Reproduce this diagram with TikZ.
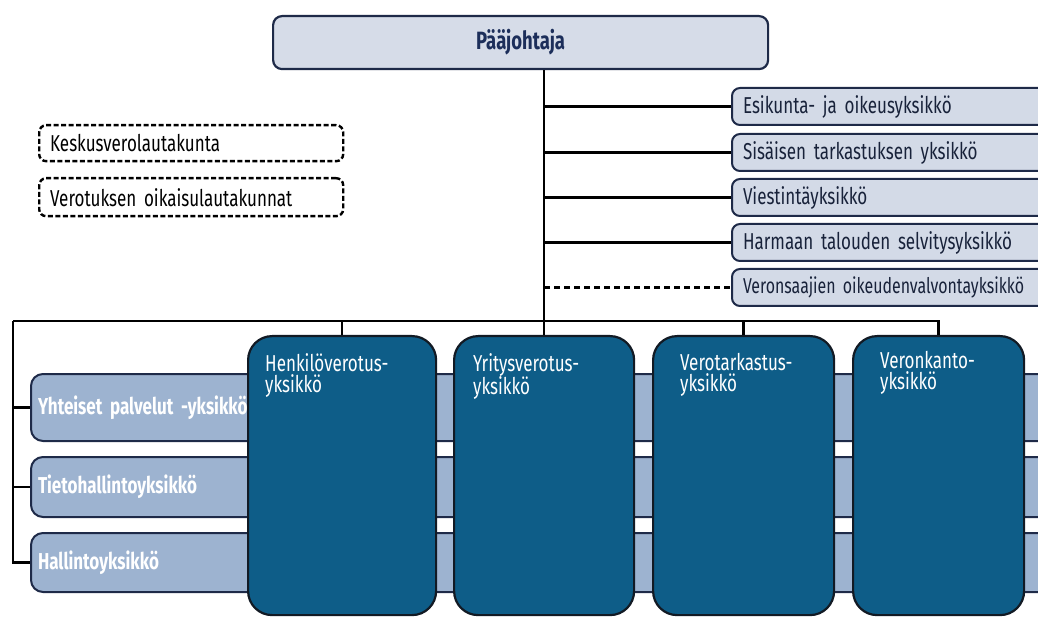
\documentclass[tikz,border=0pt]{standalone}
\usepackage{fontspec}
\setmainfont[FakeStretch=0.74,WordSpace=0.6]{Fira Sans}
\usetikzlibrary{calc}
\definecolor{navy}{RGB}{30,42,72}
\definecolor{pjtext}{RGB}{28,46,90}
\definecolor{pjfill}{RGB}{214,220,232}
\definecolor{rfill}{RGB}{211,218,231}
\definecolor{lfill}{RGB}{157,179,208}
\definecolor{dfill}{RGB}{14,93,136}
\definecolor{dborder}{RGB}{18,26,36}
\begin{document}
\begin{tikzpicture}[x=1pt,y=-1pt,
  conn/.style={line width=2.6pt, draw=black},
  pjbox/.style={draw=navy, line width=2.2pt, rounded corners=9pt, fill=pjfill, inner sep=0pt, anchor=north west, text=pjtext, font=\fontsize{25}{28}\selectfont\bfseries},
  rbox/.style={draw=navy, line width=2pt, rounded corners=8pt, fill=rfill, anchor=north west, minimum width=340pt, minimum height=37pt, text width=318pt, inner xsep=11pt, inner ysep=0pt, align=left, text=navy!80!black, font=\fontsize{23}{24}\selectfont},
  dbox/.style={draw=black, line width=2.4pt, dash pattern=on 5pt off 2.5pt, rounded corners=7pt, anchor=north west, minimum width=304pt, text width=282pt, inner xsep=11pt, inner ysep=0pt, align=left, font=\fontsize{23}{24}\selectfont},
  lbox/.style={draw=navy, line width=2pt, rounded corners=12pt, fill=lfill, anchor=north west, minimum width=1050pt, text width=1036pt, inner xsep=7pt, inner ysep=0pt, align=left, text=white, font=\fontsize{23}{24}\selectfont\bfseries},
  kbox/.style={draw=dborder, line width=2.2pt, rounded corners=24pt, fill=dfill, anchor=north west, minimum height=279pt, inner sep=0pt},
  ktext/.style={anchor=north west, inner sep=0pt, text=white, align=left, font=\fontsize{23}{21}\selectfont}
]
\useasboundingbox (0,0) rectangle (1038,617);
\clip (0,0) rectangle (1038,617);

% top
\node[pjbox, minimum width=495pt, minimum height=53pt] (pj) at (272,15) {Pääjohtaja};

% staff units
\node[rbox] (r1) at (731,87) {Esikunta- ja oikeusyksikkö};
\node[rbox] (r2) at (731,133) {Sisäisen tarkastuksen yksikkö};
\node[rbox] (r3) at (731,178) {Viestintäyksikkö};
\node[rbox] (r4) at (731,223) {Harmaan talouden selvitysyksikkö};
\node[rbox, font=\fontsize{21.5}{24}\selectfont] (r5) at (731,268) {Veronsaajien oikeudenvalvontayksikkö};

% boards
\node[dbox, minimum height=36pt] (k1) at (38,124) {Keskusverolautakunta};
\node[dbox, minimum height=38pt] (k2) at (38,177) {Verotuksen oikaisulautakunnat};

% light horizontal units
\node[lbox, minimum height=67pt] (yht) at (30,373) {Yhteiset palvelut -yksikkö};
\node[lbox, minimum height=60pt] (tie) at (30,456) {Tietohallintoyksikkö};
\node[lbox, minimum height=59pt] (hal) at (30,532) {Hallintoyksikkö};

% main units
\node[kbox, minimum width=188pt] (hen) at (247,335) {};
\node[kbox, minimum width=180pt] (yri) at (453,335) {};
\node[kbox, minimum width=181pt] (ver) at (652,335) {};
\node[kbox, minimum width=171pt] (kan) at (852,335) {};
\node[ktext] (henT) at ($(hen.north west)+(18,18)$) {Henkilöverotus-\\yksikkö};
\node[ktext] (yriT) at ($(yri.north west)+(20,18)$) {Yritysverotus-\\yksikkö};
\node[ktext] (verT) at ($(ver.north west)+(28,18)$) {Verotarkastus-\\yksikkö};
\node[ktext] (kanT) at ($(kan.north west)+(28,16)$) {Veronkanto-\\yksikkö};

% connectors
\coordinate (busL) at (13,321);
\draw[conn] (pj.south -| yri.north) -- (yri.north);
\draw[conn] (r1.west -| yri.north) -- (r1.west);
\draw[conn] (r2.west -| yri.north) -- (r2.west);
\draw[conn] (r3.west -| yri.north) -- (r3.west);
\draw[conn] (r4.west -| yri.north) -- (r4.west);
\draw[conn, dash pattern=on 6pt off 4pt] (r5.west -| yri.north) -- (r5.west);
\draw[conn] (busL) -- (kan.north |- busL) -- (kan.north);
\draw[conn] (hen.north |- busL) -- (hen.north);
\draw[conn] (ver.north |- busL) -- (ver.north);
\draw[conn] (busL) |- (hal.west);
\draw[conn] (busL |- yht.west) -- (yht.west);
\draw[conn] (busL |- tie.west) -- (tie.west);
\end{tikzpicture}
\end{document}
